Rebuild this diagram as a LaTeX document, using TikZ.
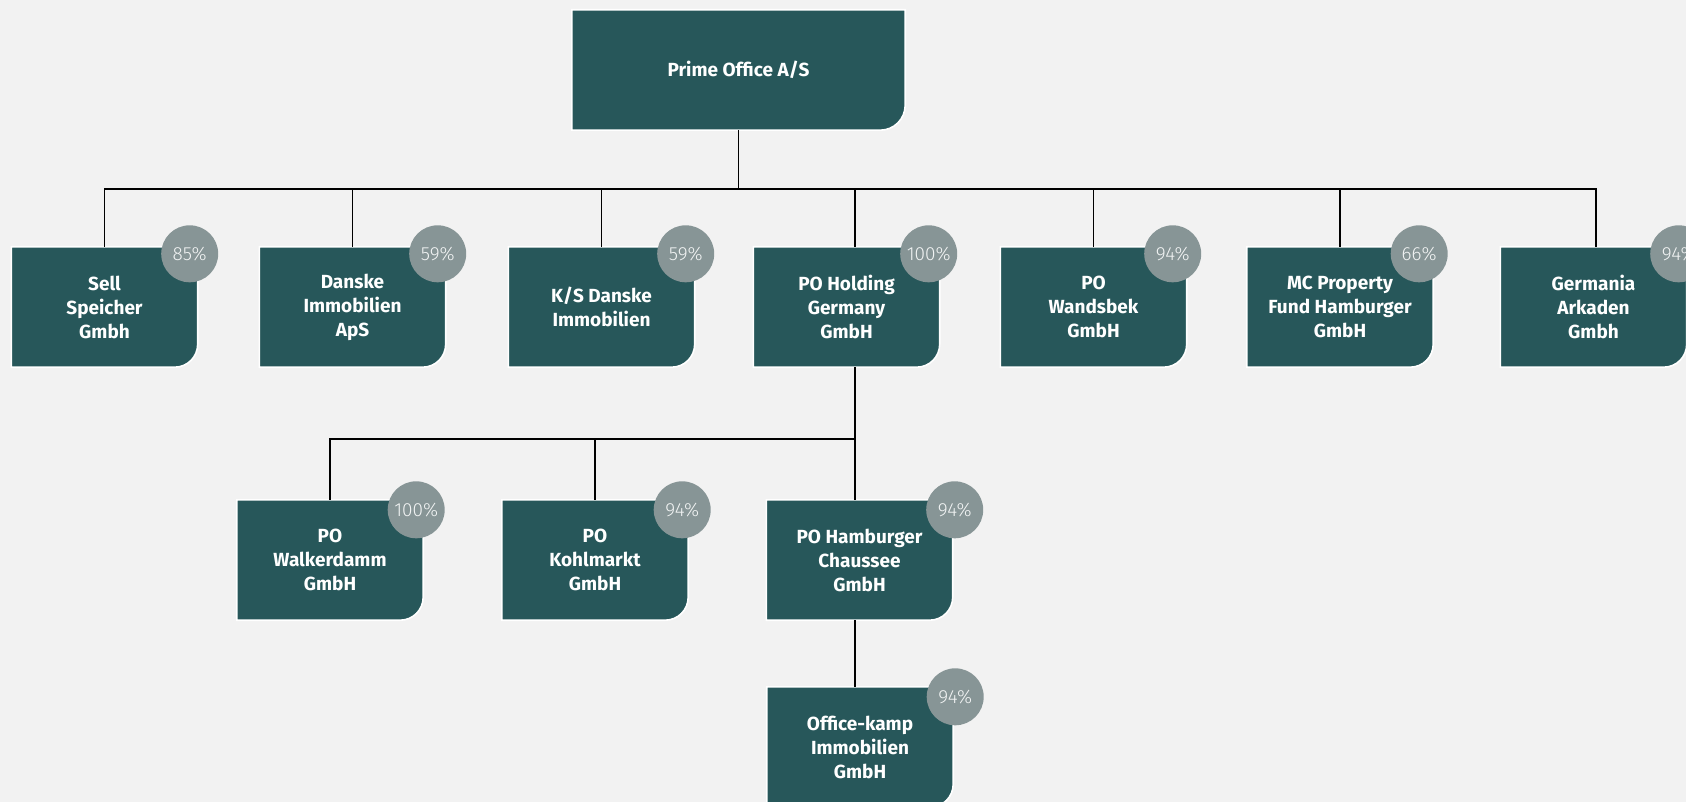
\documentclass[tikz,border=0pt]{standalone}
\usepackage{fontspec}
\setmainfont{Fira Sans}
\newfontfamily\pctfont{Fira Sans Light}
\usepackage{tikz}
\usetikzlibrary{backgrounds,calc}

\definecolor{pagebg}{HTML}{F2F2F2}
\definecolor{boxteal}{HTML}{27575A}
\definecolor{pctgrey}{HTML}{879596}
\definecolor{pcttext}{HTML}{F2F4F4}

\tikzset{
unit/.style={rectangle, minimum width=186pt, minimum height=120pt, inner sep=0pt, align=center, text=white, font=\bfseries\fontsize{19}{24}\selectfont},
pct/.style={circle, fill=pctgrey, minimum size=57pt, inner sep=0pt, text=pcttext, font=\pctfont\fontsize{19}{19}\selectfont},
link/.style={draw=black, line width=1.2pt},
boxshape/.style={fill=boxteal, draw=white, line width=1.6pt}
}

\begin{document}
\begin{tikzpicture}[x=1pt, y=1pt]
\useasboundingbox (0,0) rectangle (1686,-802);
\node (top) at (738.5,-70) [unit, minimum width=333pt] {Prime Office A/S};
\node (sell) at (104.5,-307) [unit] {Sell\\Speicher\\Gmbh};
\node (danske) at (352.5,-307) [unit] {Danske\\Immobilien\\ApS};
\node (ksdanske) at (601.5,-307) [unit] {K/S Danske\\Immobilien};
\node (pohold) at (846.5,-307) [unit] {PO Holding\\Germany\\GmbH};
\node (wandsbek) at (1093.5,-307) [unit] {PO\\Wandsbek\\GmbH};
\node (mcprop) at (1340,-307) [unit] {MC Property\\Fund Hamburger\\GmbH};
\node (germania) at (1593.5,-307) [unit] {Germania\\Arkaden\\Gmbh};
\node (walker) at (330,-560) [unit] {PO\\Walkerdamm\\GmbH};
\node (kohl) at (595,-560) [unit] {PO\\Kohlmarkt\\GmbH};
\node (chaussee) at (859.5,-560) [unit] {PO Hamburger\\Chaussee\\GmbH};
\node (office) at (860,-747) [unit] {Office-kamp\\Immobilien\\GmbH};

\begin{scope}[on background layer]
\fill[pagebg] (0,0) rectangle (1686,-802);
\draw[boxshape] (top.north west) -- (top.north east) -- ([yshift=25pt]top.south east) arc[start angle=0, end angle=-90, radius=25pt] -- (top.south west) -- cycle;
\foreach \n in {sell,danske,ksdanske,pohold,wandsbek,mcprop,germania,walker,kohl,chaussee,office}
  \draw[boxshape] (\n.north west) -- (\n.north east) -- ([yshift=23pt]\n.south east) arc[start angle=0, end angle=-90, radius=23pt] -- (\n.south west) -- cycle;
\end{scope}

\node (sellpct) at ([xshift=-8pt, yshift=-7pt]sell.north east) [pct] {85\%};
\node (danskepct) at ([xshift=-8pt, yshift=-7pt]danske.north east) [pct] {59\%};
\node (ksdanskepct) at ([xshift=-9pt, yshift=-7pt]ksdanske.north east) [pct] {59\%};
\node (poholdpct) at ([xshift=-11pt, yshift=-7pt]pohold.north east) [pct] {100\%};
\node (wandsbekpct) at ([xshift=-14pt, yshift=-7pt]wandsbek.north east) [pct] {94\%};
\node (mcproppct) at ([xshift=-14pt, yshift=-7pt]mcprop.north east) [pct] {66\%};
\node (germaniapct) at ([xshift=-8pt, yshift=-7pt]germania.north east) [pct] {94\%};
\node (walkerpct) at ([xshift=-7pt, yshift=-10pt]walker.north east) [pct] {100\%};
\node (kohlpct) at ([xshift=-6pt, yshift=-10pt]kohl.north east) [pct] {94\%};
\node (chausseepct) at ([xshift=2pt, yshift=-10pt]chaussee.north east) [pct] {94\%};
\node (officepct) at ([xshift=2pt, yshift=-10pt]office.north east) [pct] {94\%};

\coordinate (bus1) at (738.5,-189);
\coordinate (bus2) at (855,-439);
\draw [link] (top.south) -- (bus1);
\draw [link] (bus1) -| (sell.north);
\draw [link] (bus1) -| (danske.north);
\draw [link] (bus1) -| (ksdanske.north);
\draw [link] (bus1) -| ([xshift=8.5pt]pohold.north);
\draw [link] (bus1) -| (wandsbek.north);
\draw [link] (bus1) -| (mcprop.north);
\draw [link] (bus1) -| ([xshift=2.5pt]germania.north);
\draw [link] ([xshift=8.5pt]pohold.south) -- (bus2);
\draw [link] (bus2) -| (walker.north);
\draw [link] (bus2) -| (kohl.north);
\draw [link] (bus2) -- ([xshift=-4.5pt]chaussee.north);
\draw [link] ([xshift=-4.5pt]chaussee.south) -- ([xshift=-5pt]office.north);
\end{tikzpicture}
\end{document}
